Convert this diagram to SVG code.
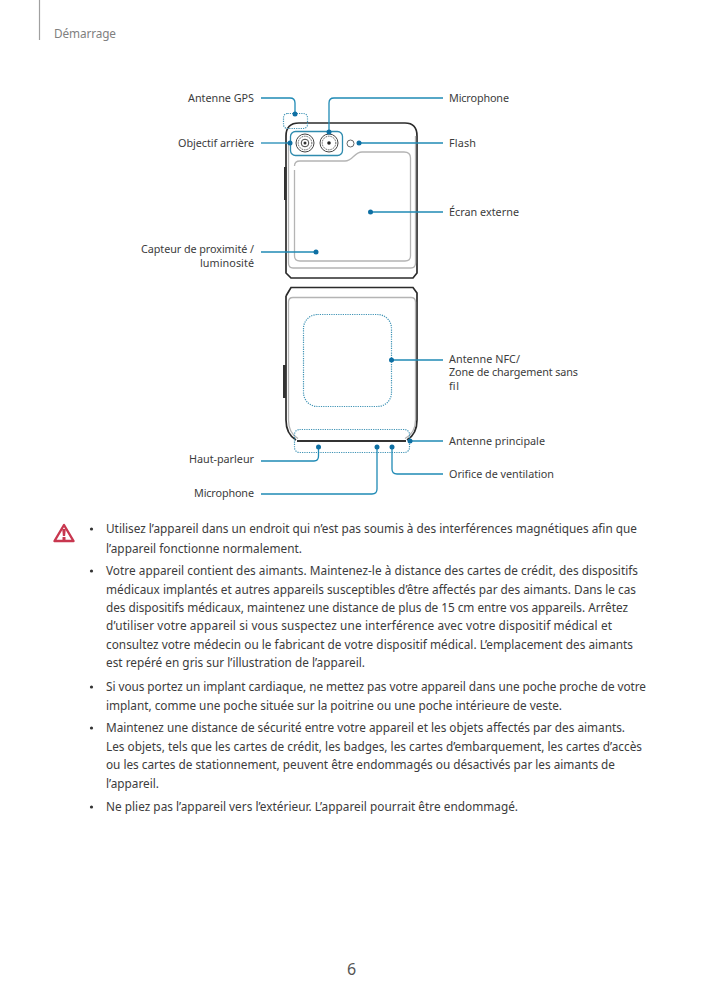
<svg xmlns="http://www.w3.org/2000/svg" width="703" height="994" viewBox="0 0 703 994">
<style>
text{font-family:"Noto Sans","Open Sans","Liberation Sans",sans-serif;font-size:11.800px;fill:#3c3c3c}
.lbl{font-size:10.800px}
.body{fill:none;stroke:#2b2b2b;stroke-width:1.700}
.in{fill:none;stroke:#b4b4b4;stroke-width:1.300}
.dot{fill:none;stroke:#3f93b5;stroke-width:1.200;stroke-dasharray:1.200 1.100}
.ld{fill:none;stroke:#1f8ab5;stroke-width:1.300}
.d{fill:#0e6fa3}
</style>
<rect width="703" height="994" fill="#fff"/>
<g id="header">
<line x1="39.500" y1="0" x2="39.500" y2="40" stroke="#a0a0a0" stroke-width="1.200"/>
<text x="54" y="38" textLength="62" style="fill:#808080">Démarrage</text>
</g>
<g id="phone-top">
<path class="body" d="M286 142V136Q286 123 299 123H405Q417 123 417 136V273L413 278H291L286 273V142"/>
<path d="M284 167h2.500v33h-2.500z" fill="#333"/>
<path class="in" d="M288.500 142V263Q288.500 268 293 268H411Q415.500 268 415.500 263V136"/>
<path class="in" d="M294.500 170V256Q294.500 261 300 261H405Q410.500 261 410.500 256V158Q410.500 152 404 152H362C354 152 353 161 345 161H300Q294.500 161 294.500 166"/>
<g fill="none" stroke="#444" stroke-width="1">
<circle cx="305" cy="143" r="9"/><circle cx="305" cy="143" r="6.800" stroke-dasharray="1 .8"/><circle cx="305" cy="143" r="3.800"/>
<circle cx="329" cy="143" r="9"/><circle cx="329" cy="143" r="6.800" stroke-dasharray="1 .8"/>
<circle cx="350.500" cy="143.500" r="3.500" stroke="#666"/>
</g>
<circle cx="305" cy="143" r="1.500" fill="#333"/><circle cx="329" cy="143" r="1.800" fill="#222"/>
<rect x="290.500" y="131.500" width="52" height="24" rx="5" fill="none" stroke="#2f8bae" stroke-width="1.300"/>
<rect x="283.500" y="113.500" width="24" height="15" rx="4" class="dot"/>
</g>
<g id="phone-bottom">
<path class="body" d="M286 296L291 287.500H413L417 293V420Q417 434 407 440M296 440Q286 434 286 420V296"/>
<path d="M283 365h3v33h-3z" fill="#333"/>
<path class="in" d="M298 438.500Q288.500 433 288.500 420V302Q288.500 297.500 293 297.500H411Q415.500 297.500 415.500 302V420Q415.500 433 405 438.500"/>
<path d="M297 441H406" stroke="#333" stroke-width="2" fill="none"/>
<rect x="303.500" y="314.500" width="88" height="92" rx="14" class="dot"/>
<rect x="294.500" y="429.500" width="115" height="23" rx="5" class="dot"/>
</g>
<g id="connectors">
<path class="ld" d="M261 98H290Q295 98 295 103V114"/><circle class="d" cx="295" cy="114" r="2.500"/>
<path class="ld" d="M443 98H334Q329 98 329 103V132"/><circle class="d" cx="329" cy="132" r="2.500"/>
<path class="ld" d="M261 143H290"/><circle class="d" cx="290" cy="143" r="2.500"/>
<path class="ld" d="M359 143H443"/><circle class="d" cx="359" cy="143" r="2.500"/>
<path class="ld" d="M370.500 212H443"/><circle class="d" cx="370.500" cy="212" r="2.500"/>
<path class="ld" d="M261 252H316"/><circle class="d" cx="316" cy="252" r="2.500"/>
<path class="ld" d="M391.500 360H443"/><circle class="d" cx="391.500" cy="360" r="2.500"/>
<path class="ld" d="M410 441H443"/><circle class="d" cx="410" cy="441" r="2.500"/>
<path class="ld" d="M261 461H314Q318.500 461 318.500 456V447"/><circle class="d" cx="318.500" cy="447" r="2.500"/>
<path class="ld" d="M261 494H372Q377 494 377 489V447"/><circle class="d" cx="377" cy="447" r="2.500"/>
<path class="ld" d="M443 474H397Q392 474 392 469V447"/><circle class="d" cx="392" cy="447" r="2.500"/>
</g>
<g id="labels">
<text class="lbl" x="188" y="101.500" textLength="66">Antenne GPS</text>
<text class="lbl" x="178" y="146.500" textLength="76">Objectif arrière</text>
<text class="lbl"><tspan x="141" y="253" textLength="113">Capteur de proximité /</tspan><tspan x="200" y="267" textLength="54">luminosité</tspan></text>
<text class="lbl" x="189" y="463" textLength="65">Haut-parleur</text>
<text class="lbl" x="194" y="497" textLength="60">Microphone</text>
<text class="lbl" x="449" y="102" textLength="60">Microphone</text>
<text class="lbl" x="449" y="147" textLength="27">Flash</text>
<text class="lbl" x="449" y="216" textLength="70">Écran externe</text>
<text class="lbl"><tspan x="449" y="363" textLength="71">Antenne NFC/</tspan><tspan x="449" y="376" textLength="129">Zone de chargement sans</tspan><tspan x="449" y="390" textLength="10">fil</tspan></text>
<text class="lbl" x="449" y="445" textLength="96">Antenne principale</text>
<text class="lbl" x="449" y="478" textLength="105">Orifice de ventilation</text>
</g>
<g id="warning">
<path d="M64 525L54.500 541H73.500Z" fill="none" stroke="#c8374f" stroke-width="2.400" stroke-linejoin="round"/>
<path d="M62.200 529h3.600l-.7 7h-2.200zM62.500 537h3v3h-3z" fill="#c8374f"/>
</g>
<g id="body-text">
<circle cx="91.500" cy="529" r="1.600" fill="#333"/><circle cx="91.500" cy="571" r="1.600" fill="#333"/><circle cx="91.500" cy="687" r="1.600" fill="#333"/><circle cx="91.500" cy="728" r="1.600" fill="#333"/><circle cx="91.500" cy="807" r="1.600" fill="#333"/>
<text x="106" y="533" textLength="531">Utilisez l’appareil dans un endroit qui n’est pas soumis à des interférences magnétiques afin que</text>
<text x="106" y="552.500" textLength="196">l’appareil fonctionne normalement.</text>
<text x="106" y="575" textLength="532">Votre appareil contient des aimants. Maintenez-le à distance des cartes de crédit, des dispositifs</text>
<text x="106" y="593.500" textLength="530">médicaux implantés et autres appareils susceptibles d’être affectés par des aimants. Dans le cas</text>
<text x="106" y="611.500" textLength="522">des dispositifs médicaux, maintenez une distance de plus de 15 cm entre vos appareils. Arrêtez</text>
<text x="106" y="630" textLength="506">d’utiliser votre appareil si vous suspectez une interférence avec votre dispositif médical et</text>
<text x="106" y="649" textLength="527">consultez votre médecin ou le fabricant de votre dispositif médical. L’emplacement des aimants</text>
<text x="106" y="667" textLength="259">est repéré en gris sur l’illustration de l’appareil.</text>
<text x="106" y="691" textLength="540">Si vous portez un implant cardiaque, ne mettez pas votre appareil dans une poche proche de votre</text>
<text x="106" y="710" textLength="456">implant, comme une poche située sur la poitrine ou une poche intérieure de veste.</text>
<text x="106" y="732" textLength="519">Maintenez une distance de sécurité entre votre appareil et les objets affectés par des aimants.</text>
<text x="106" y="751" textLength="536">Les objets, tels que les cartes de crédit, les badges, les cartes d’embarquement, les cartes d’accès</text>
<text x="106" y="769" textLength="509">ou les cartes de stationnement, peuvent être endommagés ou désactivés par les aimants de</text>
<text x="106" y="788" textLength="53">l’appareil.</text>
<text x="106" y="811" textLength="412">Ne pliez pas l’appareil vers l’extérieur. L’appareil pourrait être endommagé.</text>
</g>
<text id="page" x="351.500" y="975" text-anchor="middle" style="font-size:16px;fill:#555">6</text>
</svg>
